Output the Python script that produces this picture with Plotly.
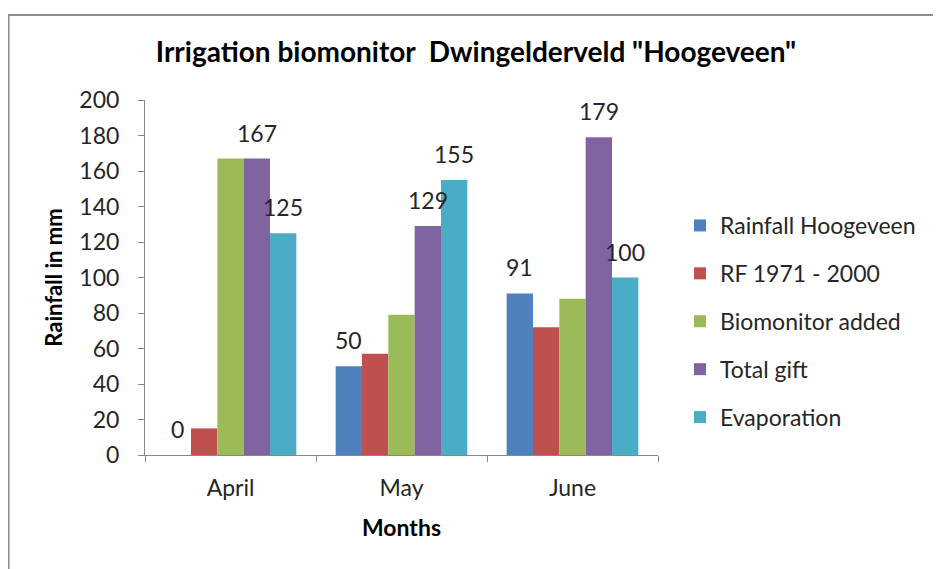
import plotly.graph_objects as go

months = ["April", "May", "June"]
rainfall_hoogeveen = [0, 50, 91]
rf_1971_2000 = [15, 57, 72]
biomonitor_added = [167, 79, 88]
total_gift = [167, 129, 179]
evaporation = [125, 155, 100]

series = [
    ("Rainfall Hoogeveen", rainfall_hoogeveen, "#4F81BD", True),
    ("RF 1971 - 2000", rf_1971_2000, "#C0504D", False),
    ("Biomonitor added", biomonitor_added, "#9BBB59", False),
    ("Total gift", total_gift, "#8064A2", True),
    ("Evaporation", evaporation, "#4BACC6", True),
]

FONT = "Lato, Carlito, Calibri, sans-serif"
BARGAP = 0.23

W, H = 933, 561
L, T, PW, PH = 137, 92, 513, 355

fig = go.Figure()
annotations = []
n = len(series)
bw = (1 - BARGAP) / n
for i, (name, vals, col, lab) in enumerate(series):
    fig.add_trace(go.Bar(
        name=name, x=months, y=vals,
        marker=dict(color=col, line=dict(width=0)),
        legendgroup=f"g{i}",
    ))
    if lab:
        for j, v in enumerate(vals):
            annotations.append(dict(
                x=j + (i - (n - 1) / 2) * bw, y=v, xref="x", yref="y",
                text=str(v), showarrow=False, yanchor="bottom", xanchor="center",
                yshift=10, font=dict(size=23, color="#262626", family=FONT),
            ))

fig.update_layout(
    width=W, height=H,
    barmode="group", bargap=BARGAP, bargroupgap=0,
    plot_bgcolor="white", paper_bgcolor="white",
    font=dict(family=FONT, size=23, color="#262626"),
    margin=dict(l=L, r=W - L - PW, t=T, b=H - T - PH, autoexpand=False),
    title=dict(text='<b>Irrigation biomonitor  Dwingelderveld "Hoogeveen"</b>',
               x=468 / W, xanchor="center", y=1 - 44 / H, yanchor="middle",
               xref="container",
               font=dict(size=28, color="#000000", family=FONT)),
    legend=dict(x=(672 - L) / PW, xanchor="left", y=(T + PH - 196) / PH, yanchor="top",
                font=dict(size=23, family=FONT, color="#262626"),
                tracegroupgap=15, itemwidth=30, bgcolor="rgba(0,0,0,0)"),
    showlegend=True,
    annotations=annotations,
    shapes=[dict(type="rect", xref="paper", yref="paper",
                 x0=(0.5 - L) / PW, x1=2.0, y0=-2.0, y1=(T + PH - 7) / PH,
                 line=dict(color="#8c8c8c", width=2))],
)
fig.update_xaxes(
    title=dict(text="<b>Months</b>", font=dict(size=23, color="#000000"), standoff=20),
    showline=True, linecolor="#888888", linewidth=1,
    ticks="outside", tickcolor="#888888", ticklen=6, tickson="boundaries",
    ticklabelstandoff=12,
    showgrid=False, tickfont=dict(size=23),
)
fig.update_yaxes(
    title=dict(text="<b>Rainfall in mm</b>", font=dict(size=22, color="#000000"), standoff=10),
    range=[0, 200], dtick=20,
    showline=True, linecolor="#888888", linewidth=1,
    ticks="outside", tickcolor="#888888", ticklen=6,
    ticklabelstandoff=14,
    showgrid=False, zeroline=False, tickfont=dict(size=23),
)

fig.write_html("out.html")
